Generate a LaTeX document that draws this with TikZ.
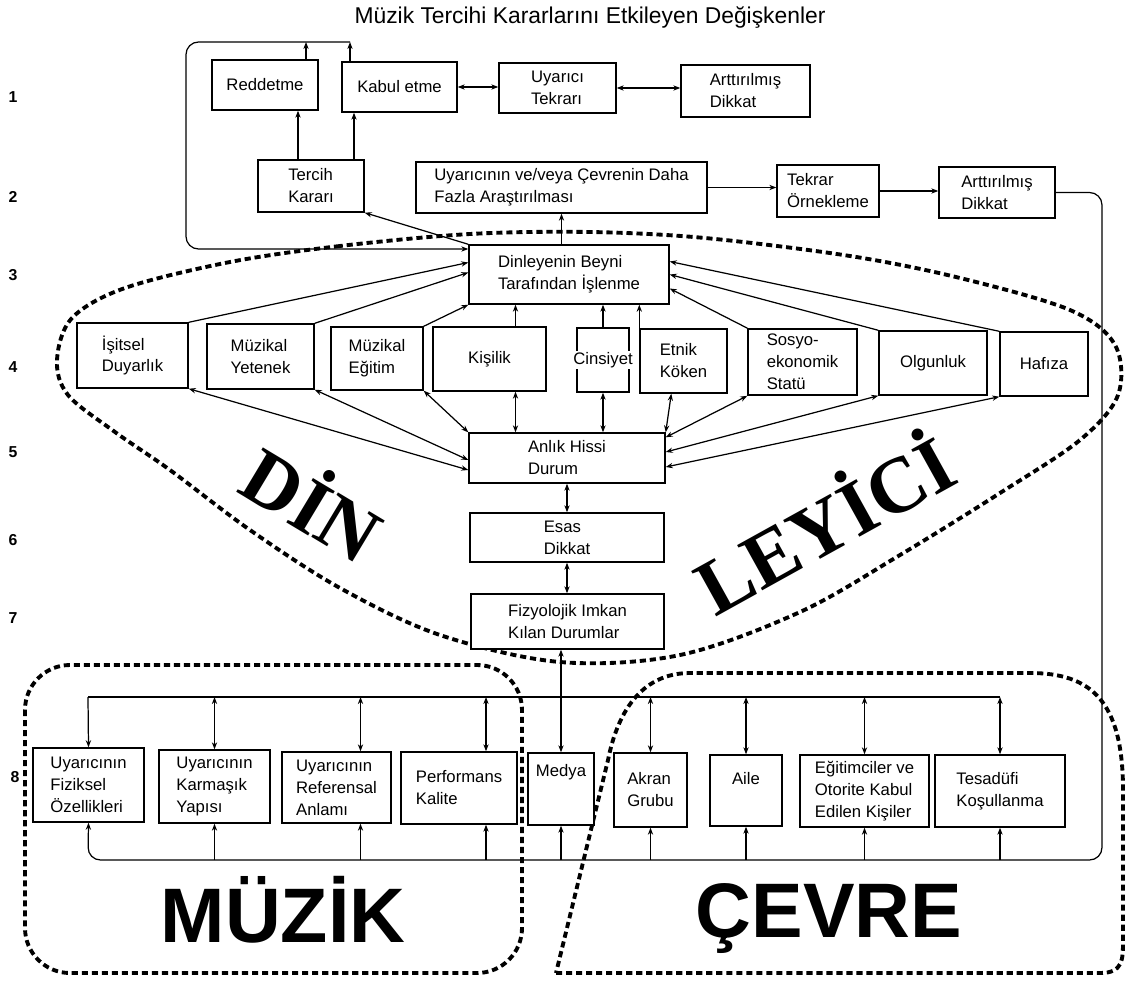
\documentclass[tikz,border=0pt]{standalone}
\usepackage{fontspec}
\setmainfont{Liberation Sans}
\newfontfamily\dinfont{Liberation Serif}
\usetikzlibrary{arrows.meta,calc}

\tikzset{
  box/.style={draw, fill=white, line width=0.8pt, align=left,
    font=\fontsize{9.5}{12.5}\selectfont, inner sep=3pt},
  bx/.style 2 args={minimum width=#1*0.02cm, minimum height=#2*0.02cm},
  conn/.style={line width=0.7pt},
  dotline/.style={line width=2.2pt, dash pattern=on 3.5pt off 2.2pt},
  rownum/.style={font=\bfseries\fontsize{9}{10}\selectfont},
  bigword/.style={font=\bfseries\fontsize{44}{44}\selectfont},
  dinword/.style={font=\dinfont\bfseries\fontsize{45}{45}\selectfont},
}

\begin{document}
\begin{tikzpicture}[x=0.02cm, y=-0.02cm, >={Stealth[length=4pt,width=3pt]}]
\useasboundingbox (0,0) rectangle (1128,980);

% dotted groups
\draw[dotline] plot[smooth cycle, tension=0.55] coordinates {
  (470,234) (340,246) (230,262) (125,288) (72,318) (57,360) (68,395)
  (115,432) (170,470) (250,530) (340,588) (440,635) (560,662) (680,655)
  (800,612) (900,555) (1000,493) (1080,440) (1118,395) (1115,345)
  (1070,310) (960,278) (850,256) (705,238) (590,232)};
\draw[dotline, rounded corners=0.9cm] (25,665) rectangle (522,973);
\draw[dotline] (556,973) -- (1100,973) .. controls (1123,973) and (1123,960) .. (1123,940)
  -- (1123,790) .. controls (1123,700) and (1090,673) .. (1030,673)
  -- (690,673) .. controls (650,673) and (620,700) .. (608,760) -- cycle;

\node[font=\fontsize{13}{15}\selectfont] (title) at (590,18) {Müzik Tercihi Kararlarını Etkileyen Değişkenler};

% row numbers
\node[rownum] (n1) at (13,97) {1};
\node[rownum] (n2) at (13,197) {2};
\node[rownum] (n3) at (13,275) {3};
\node[rownum] (n4) at (13,367) {4};
\node[rownum] (n5) at (13,452) {5};
\node[rownum] (n6) at (13,540) {6};
\node[rownum] (n7) at (13,618) {7};
\node[rownum] (n8) at (15,777) {8};

% row 1 and 2
\node[box, bx={106}{50}] (redd) at (265,85) {Reddetme};
\node[box, bx={115}{50}] (kabul) at (399.5,87) {Kabul etme};
\node[box, bx={117}{50}] (uyartek) at (557.5,88) {Uyarıcı\\Tekrarı};
\node[box, bx={129}{52}] (artdik1) at (745.5,91) {Arttırılmış\\Dikkat};
\node[box, bx={106}{52}] (tercih) at (311,186) {Tercih\\Kararı};
\node[box, bx={291}{51}] (arastir) at (561.5,187.5) {Uyarıcının ve/veya Çevrenin Daha\\ Fazla Araştırılması};
\node[box, bx={102}{52}] (tekrar) at (828,191) {Tekrar\\Örnekleme};
\node[box, bx={116}{51}] (artdik2) at (997,192.5) {Arttırılmış\\Dikkat};

% rows 3 - 7
\node[box, bx={200}{59}] (beyin) at (569,274.5) {Dinleyenin Beyni\\Tarafından İşlenme};
\node[box, bx={111}{65}] (isitsel) at (132.5,355.5) {İşitsel\\Duyarlık};
\node[box, bx={107}{65}] (yetenek) at (260.5,356.5) {Müzikal\\Yetenek};
\node[box, bx={92}{63}] (egitim) at (377,358.5) {Müzikal\\Eğitim};
\node[box, bx={113}{64}] (kisilik) at (489.5,359) {Kişilik};
\node[box, bx={52}{64}, label={[fill=white, inner sep=0.5pt, font=\fontsize{9.5}{12.5}\selectfont]center:Cinsiyet}] (cinsiyet) at (603,360) {};
\node[box, bx={87}{64}] (etnik) at (683.5,361) {Etnik\\Köken};
\node[box, bx={109}{66}] (sosyo) at (802.5,362) {Sosyo-\\ekonomik\\Statü};
\node[box, bx={108}{64}] (olgun) at (933,363) {Olgunluk};
\node[box, bx={88}{64}] (hafiza) at (1044,364) {Hafıza};
\node[box, bx={196}{50}] (anlik) at (567,458) {Anlık Hissi\\Durum};
\node[box, bx={194}{49}] (esas) at (567,537.5) {Esas\\Dikkat};
\node[box, bx={193}{55}] (fizyo) at (567.5,621.5) {Fizyolojik Imkan\\Kılan Durumlar};

% row 8
\node[box, bx={111}{74}] (fiziksel) at (88.5,785) {Uyarıcının\\Fiziksel\\Özellikleri};
\node[box, bx={111}{73}] (karmasik) at (214.5,786.5) {Uyarıcının\\Karmaşık\\Yapısı};
\node[box, bx={109}{71}] (referans) at (336.5,787.5) {Uyarıcının\\Referensal\\Anlamı};
\node[box, bx={116}{72}] (perform) at (459,788) {Performans\\Kalite};
\node[box, bx={66}{72}, text depth=21pt] (medya) at (561,789) {Medya};
\node[box, bx={73}{74}] (akran) at (650.5,790) {Akran\\Grubu};
\node[box, bx={72}{71}, text depth=14pt] (aile) at (746,790.5) {Aile};
\node[box, bx={129}{72}] (egitimci) at (864.5,791) {Eğitimciler ve\\Otorite Kabul\\Edilen Kişiler};
\node[box, bx={130}{72}] (tesadufi) at (1000,791) {Tesadüfi\\Koşullanma};

% big words
\node[dinword, rotate=-31] (din) at (315,500) {DİN};
\node[dinword, rotate=29] (leyici) at (822,520) {LEYİCİ};
\node[bigword, anchor=base] (muzik) at (283,942) {MÜZİK};
\node[bigword, anchor=base] (cevre) at (829,937) {ÇEVRE};

% row 1 connectors and loop
\draw[conn,<->] (kabul.east) -- (kabul.east -| uyartek.west);
\draw[conn,<->] (uyartek.east) -- (uyartek.east -| artdik1.west);
\coordinate (looptl) at (186,42);
\coordinate (loopbl) at (186,249);
\coordinate (rtop) at (306,42);
\coordinate (ktop) at (350,42);
\draw[conn,->] (redd.north -| rtop) -- (rtop);
\draw[conn,->] (kabul.north -| ktop) -- (ktop);
\draw[conn,->,rounded corners=0.25cm] (ktop) -- (looptl) -- (loopbl) -- (beyin.west |- loopbl);

% row 2 connectors
\coordinate (t1) at ($(tercih.north)+(-13,0)$);
\coordinate (t2) at ($(tercih.north)+(43,0)$);
\draw[conn,->] (t1) -- (t1 |- redd.south);
\draw[conn,->] (t2) -- (t2 |- kabul.south);
\draw[conn,->] (beyin.north west) -- (tercih.south east);
\draw[conn,->] (beyin.north -| arastir.south) -- (arastir.south);
\draw[conn,->] (arastir.east) -- (arastir.east -| tekrar.west);
\draw[conn,->] (tekrar.east) -- (tekrar.east -| artdik2.west);

% feedback to the inputs
\coordinate (fbtop) at (1102,192);
\coordinate (bbus) at (88,860);
\draw[conn,->,rounded corners=0.25cm] (artdik2.east) -- (artdik2.east -| fbtop) -- (fbtop |- bbus) -- (bbus) -- (fiziksel.south);

% row 4 to row 3 and row 5
\draw[conn,->] (isitsel.north east) -- ($(beyin.west)+(0,-12)$);
\draw[conn,->] (yetenek.north east) -- ($(beyin.west)+(0,-2)$);
\draw[conn,->] (egitim.north east) -- (beyin.south west);
\draw[conn,->] (sosyo.north west) -- ($(beyin.east)+(0,14)$);
\draw[conn,->] (olgun.north west) -- (beyin.east);
\draw[conn,->] (hafiza.north west) -- ($(beyin.east)+(0,-13)$);
\draw[conn,<->] (isitsel.south east) -- ($(anlik.west)+(0,12)$);
\draw[conn,<->] (yetenek.south east) -- ($(anlik.west)+(0,2)$);
\draw[conn,<->] (egitim.south east) -- (anlik.north west);
\draw[conn,<->] (sosyo.south west) -- ($(anlik.north east)+(0,5)$);
\draw[conn,<->] (olgun.south west) -- ($(anlik.east)+(0,-6)$);
\draw[conn,<->] (hafiza.south west) -- ($(anlik.east)+(0,9)$);
\coordinate (kx) at ($(kisilik.south)+(26,0)$);
\coordinate (kx2) at ($(kisilik.north)+(26,0)$);
\draw[conn,<->] (kx) -- (kx |- anlik.north);
\draw[conn,->] (kx2) -- (kx2 |- beyin.south);
\draw[conn,<->] (cinsiyet.south) -- (cinsiyet.south |- anlik.north);
\draw[conn,->] (cinsiyet.north) -- (cinsiyet.north |- beyin.south);
\draw[conn,->] (etnik.north west) -- (etnik.north west |- beyin.south);
\draw[conn,<->] ($(etnik.south west)+(32,0)$) -- (anlik.north east);

% centre column
\draw[conn,<->] (anlik.south) -- (anlik.south |- esas.north);
\draw[conn,<->] (esas.south) -- (esas.south |- fizyo.north);
\draw[conn,<->] (fizyo.south -| medya.north) -- (medya.north);

% buses of row 8
\coordinate (tbus) at (88,697);
\draw[conn] (tbus) -- (tbus -| tesadufi.north);
\draw[conn,->] (tbus) -- (fiziksel.north);
\coordinate (rt) at ($(referans.north)+(24,0)$);
\coordinate (pt) at ($(perform.north)+(27,0)$);
\coordinate (rb) at ($(referans.south)+(24,0)$);
\coordinate (pb) at ($(perform.south)+(27,0)$);
\draw[conn,<->] (rt |- tbus) -- (rt);
\draw[conn,<->] (pt |- tbus) -- (pt);
\draw[conn,->] (rb |- bbus) -- (rb);
\draw[conn,->] (pb |- bbus) -- (pb);
\foreach \b in {karmasik,akran,aile,egitimci,tesadufi}
  \draw[conn,<->] (\b.north |- tbus) -- (\b.north);
\foreach \b in {karmasik,medya,akran,aile,egitimci,tesadufi}
  \draw[conn,->] (\b.south |- bbus) -- (\b.south);

\end{tikzpicture}
\end{document}
